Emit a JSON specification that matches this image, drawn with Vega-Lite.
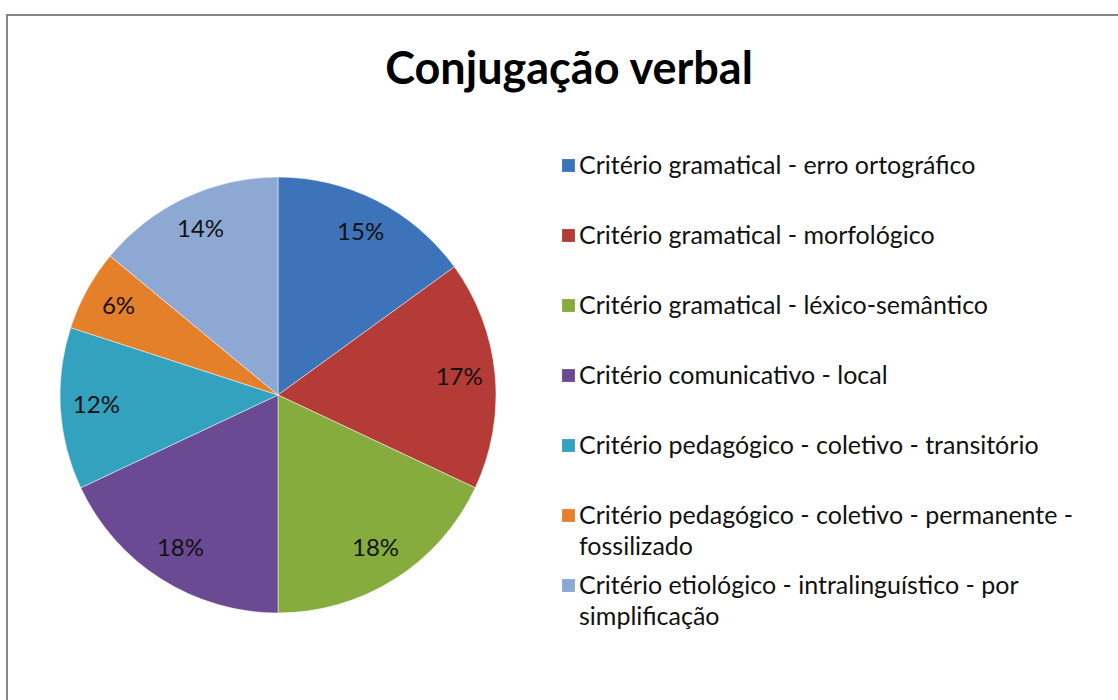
{
  "$schema": "https://vega.github.io/schema/vega-lite/v6.json",
  "width": 1118,
  "height": 700,
  "autosize": {"type": "fit", "contains": "padding"},
  "padding": {"left": 7, "top": 15, "right": -3, "bottom": -3},
  "background": "white",
  "view": {"stroke": "#878787", "strokeWidth": 2},
  "config": {
    "view": {"stroke": "#878787", "strokeWidth": 2},
    "font": "Lato",
    "style": {"guide-label": {"lineHeight": 31}}
  },
  "title": {
    "text": "Conjugação verbal",
    "fontSize": 45,
    "fontWeight": "bold",
    "font": "Lato",
    "color": "#000000",
    "anchor": "middle",
    "offset": -78,
    "dx": 5
  },
  "data": {
    "values": [
      {"idx": 1, "cat": "Critério gramatical - erro ortográfico", "pct": 15, "label": "15%"},
      {"idx": 2, "cat": "Critério gramatical - morfológico", "pct": 17, "label": "17%"},
      {"idx": 3, "cat": "Critério gramatical - léxico-semântico", "pct": 18, "label": "18%"},
      {"idx": 4, "cat": "Critério comunicativo - local", "pct": 18, "label": "18%"},
      {"idx": 5, "cat": "Critério pedagógico - coletivo - transitório", "pct": 12, "label": "12%"},
      {"idx": 6, "cat": "Critério pedagógico - coletivo - permanente - fossilizado", "pct": 6, "label": "6%"},
      {"idx": 7, "cat": "Critério etiológico - intralinguístico - por simplificação", "pct": 14, "label": "14%"}
    ]
  },
  "encoding": {
    "theta": {"field": "pct", "type": "quantitative", "stack": true},
    "order": {"field": "idx", "type": "quantitative"}
  },
  "layer": [
    {
      "mark": {"type": "arc", "radius": 218, "x": 271, "y": 380, "stroke": "#ffffff", "strokeWidth": 0.8, "strokeOpacity": 0.6},
      "encoding": {
        "color": {
          "field": "cat",
          "type": "nominal",
          "scale": {
            "domain": [
              "Critério gramatical - erro ortográfico",
              "Critério gramatical - morfológico",
              "Critério gramatical - léxico-semântico",
              "Critério comunicativo - local",
              "Critério pedagógico - coletivo - transitório",
              "Critério pedagógico - coletivo - permanente - fossilizado",
              "Critério etiológico - intralinguístico - por simplificação"
            ],
            "range": ["#3D73B9", "#B53B37", "#86AC3E", "#6A4A92", "#32A2BF", "#E5802A", "#8EA8D4"]
          },
          "legend": {
            "orient": "none",
            "legendX": 549,
            "legendY": 138,
            "title": null,
            "symbolType": "square",
            "symbolSize": 165,
            "symbolStrokeWidth": 0,
            "labelFontSize": 25,
            "labelFont": "Lato",
            "labelColor": "#111111",
            "labelLimit": 700,
            "labelOffset": -2,
            "gridAlign": "all",
            "rowPadding": 13,
            "labelExpr": "datum.label == 'Critério pedagógico - coletivo - permanente - fossilizado' ? ['Critério pedagógico - coletivo - permanente -', 'fossilizado'] : datum.label == 'Critério etiológico - intralinguístico - por simplificação' ? ['Critério etiológico - intralinguístico - por', 'simplificação'] : datum.label"
          }
        }
      }
    },
    {
      "mark": {"type": "text", "radius": 182, "x": 271, "y": 380, "fontSize": 24, "font": "Lato", "color": "#111111"},
      "encoding": {"text": {"field": "label", "type": "nominal"}}
    }
  ]
}
